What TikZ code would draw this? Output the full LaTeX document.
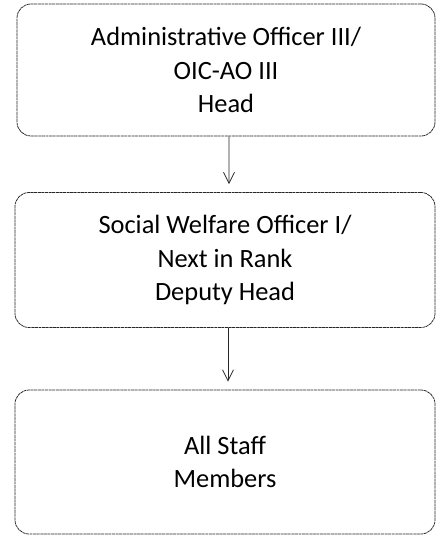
\documentclass[tikz,border=0pt]{standalone}
\usepackage{fontspec}
\setmainfont{Carlito}
\usetikzlibrary{arrows.meta,positioning}

\begin{document}
\begin{tikzpicture}[x=1bp, y=-1bp]

%% ── helpers ───────────────────────────────────────────────
\tikzset{
  rankbox/.style={rectangle,draw=black!85,line width=0.75pt,rounded corners=14bp,
                  dash pattern=on 3pt off 0.6pt,
                  minimum width=#1,align=center,inner sep=0pt,
                  font=\fontsize{26.5}{33.5}\selectfont},
  down/.style={-{Straight Barb[length=11bp,width=11bp]},line width=0.75pt,
               black!85,shorten >=8bp},
}

\useasboundingbox (0,0) rectangle (436,537);

%% ── boxes ──
\node[rankbox=418bp,minimum height=132bp] (head) at (226,70)
  {Administrative Officer III/\\OIC-AO III\\Head};
\node[rankbox=420bp,minimum height=135bp] (deputy) at (225,260)
  {Social Welfare Officer I/\\Next in Rank\\Deputy Head};
\node[rankbox=420bp,minimum height=144bp] (staff) at (225,462)
  {All Staff\\Members};

%% ── connections ──
\draw[down] ([xshift=3bp]head.south) -- ([xshift=4bp]deputy.north);
\draw[down] ([xshift=3bp]deputy.south) -- ([xshift=3bp]staff.north);

\end{tikzpicture}
\end{document}
